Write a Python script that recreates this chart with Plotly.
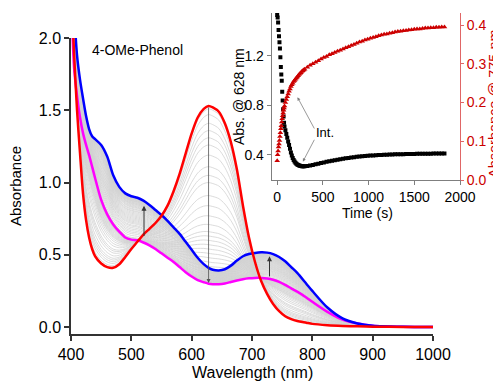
import plotly.graph_objects as go

# ---------------- data: spectra (wavelength in nm, absorbance) ----------------
wl = [400, 405, 410, 415, 420, 425, 430, 435, 440, 450, 460, 470, 480, 490, 500,
      510, 520, 530, 540, 550, 560, 570, 580, 590, 600, 610, 620, 628, 635, 645,
      655, 665, 675, 685, 695, 705, 715, 725, 735, 745, 755, 765, 775, 790, 800,
      825, 850, 875, 900, 950, 1000]

red_initial = [2.40, 1.90, 1.50, 1.20, 0.92, 0.74, 0.62, 0.54, 0.49, 0.44, 0.415, 0.41, 0.435, 0.485, 0.54,
               0.59, 0.64, 0.68, 0.72, 0.77, 0.84, 0.94, 1.06, 1.20, 1.34, 1.45, 1.51, 1.53, 1.52, 1.49,
               1.41, 1.28, 1.09, 0.84, 0.62, 0.45, 0.32, 0.23, 0.16, 0.11, 0.075, 0.055, 0.042, 0.03, 0.022,
               0.013, 0.008, 0.005, 0.003, 0.001, 0.0]

magenta_int = [2.40, 1.80, 1.60, 1.45, 1.34, 1.26, 1.19, 1.11, 1.03, 0.88, 0.78, 0.71, 0.66, 0.62, 0.605,
               0.60, 0.585, 0.565, 0.54, 0.51, 0.48, 0.45, 0.415, 0.38, 0.35, 0.325, 0.31, 0.30, 0.297, 0.297,
               0.302, 0.312, 0.322, 0.331, 0.337, 0.340, 0.340, 0.336, 0.327, 0.313, 0.292, 0.268, 0.245, 0.205, 0.175,
               0.105, 0.052, 0.025, 0.01, 0.002, 0.0]

blue_final = [2.60, 2.20, 1.88, 1.71, 1.58, 1.46, 1.37, 1.32, 1.30, 1.26, 1.18, 1.05, 0.97, 0.925, 0.905,
              0.895, 0.875, 0.845, 0.81, 0.775, 0.735, 0.69, 0.645, 0.59, 0.535, 0.48, 0.435, 0.41, 0.397, 0.392,
              0.40, 0.425, 0.46, 0.49, 0.505, 0.513, 0.517, 0.515, 0.505, 0.485, 0.455, 0.415, 0.375, 0.30, 0.25,
              0.135, 0.06, 0.025, 0.01, 0.002, 0.0]

# ---------------- data: kinetics (inset) ----------------
time_s = [0, 5, 10, 15, 20, 25, 30, 35, 40, 45, 50, 55, 60, 65, 70, 75, 80,
          90, 100, 110, 120, 130, 140, 150, 160, 170, 180, 190, 200, 210, 220, 230, 240, 250,
          260, 270, 280, 290, 300,
          330, 360, 390, 420, 450, 480, 510, 540, 570, 600, 630, 660, 690, 720, 750, 780,
          810, 840, 870, 900, 930, 960, 990, 1020, 1050, 1080, 1110, 1140, 1170, 1200,
          1230, 1260, 1290, 1320, 1350, 1380, 1410, 1440, 1470, 1500, 1530, 1560, 1590,
          1620, 1650, 1680, 1710, 1740, 1770, 1800, 1830]

abs_628 = [1.53, 1.51, 1.47, 1.41, 1.36, 1.31, 1.26, 1.19, 1.11, 1.05, 1.00, 0.91, 0.84, 0.77, 0.71, 0.66, 0.63,
           0.60, 0.57, 0.54, 0.51, 0.48, 0.45, 0.42, 0.395, 0.375, 0.36, 0.348, 0.338, 0.33, 0.324, 0.32, 0.316, 0.313,
           0.311, 0.31, 0.31, 0.31, 0.31,
           0.312, 0.316, 0.32, 0.325, 0.33, 0.335, 0.34, 0.345, 0.35, 0.354, 0.358, 0.362, 0.366, 0.37, 0.373, 0.376,
           0.379, 0.382, 0.385, 0.387, 0.389, 0.391, 0.393, 0.395, 0.396, 0.398, 0.399, 0.400, 0.401, 0.402,
           0.403, 0.404, 0.405, 0.406, 0.406, 0.407, 0.408, 0.408, 0.409, 0.409, 0.41, 0.41, 0.41,
           0.411, 0.411, 0.411, 0.412, 0.412, 0.412, 0.413, 0.413]

abs_775 = [0.05, 0.065, 0.075, 0.085, 0.093, 0.102, 0.112, 0.122, 0.132, 0.140, 0.150, 0.158, 0.166, 0.173, 0.180, 0.186, 0.191,
           0.200, 0.208, 0.215, 0.222, 0.229, 0.235, 0.241, 0.246, 0.250, 0.254, 0.257, 0.260, 0.263, 0.266, 0.269, 0.272, 0.275,
           0.277, 0.280, 0.282, 0.284, 0.286,
           0.291, 0.296, 0.300, 0.304, 0.308, 0.312, 0.316, 0.319, 0.323, 0.326, 0.329, 0.332, 0.335, 0.338, 0.341, 0.344,
           0.347, 0.350, 0.353, 0.356, 0.358, 0.361, 0.363, 0.366, 0.368, 0.370, 0.372, 0.374, 0.376, 0.377,
           0.379, 0.380, 0.382, 0.383, 0.384, 0.385, 0.386, 0.387, 0.388, 0.389, 0.390, 0.390, 0.391,
           0.392, 0.392, 0.393, 0.393, 0.394, 0.394, 0.395, 0.395]

x_ticks_main = [400, 500, 600, 700, 800, 900, 1000]
y_ticks_main = [0.0, 0.5, 1.0, 1.5, 2.0]
x_ticks_inset = [0, 500, 1000, 1500, 2000]
y_ticks_left = [0.4, 0.8, 1.2]
y_ticks_right = [0.0, 0.1, 0.2, 0.3, 0.4]

FONT = "Liberation Sans, Arial, sans-serif"
RED_DARK = "#CC0000"

fig = go.Figure()

# ---------------- intermediate (gray) spectra built from the read kinetics ----------------
i628 = wl.index(628)
red628 = red_initial[i628]
mag628 = magenta_int[i628]
i_min = abs_628.index(min(abs_628))
r_start = abs_775[i_min]
r_end = abs_775[-1]
gx, gy = [], []
for i, t in enumerate(time_s):
    if i <= i_min:
        w = (abs_628[i] - mag628) / (red628 - mag628)
        w = max(0.0, min(1.0, w))
        spec = [m + w * (r - m) for r, m in zip(red_initial, magenta_int)]
    else:
        u = (abs_775[i] - r_start) / (r_end - r_start)
        u = max(0.0, min(1.0, u))
        spec = [m + u * (b - m) for b, m in zip(blue_final, magenta_int)]
    gx += wl + [None]
    gy += spec + [None]

fig.add_trace(go.Scatter(x=gx, y=gy, mode="lines", line=dict(color="#D2D2D2", width=0.8, shape="spline", smoothing=0.8),
                         xaxis="x", yaxis="y", hoverinfo="skip", showlegend=False))

fig.add_trace(go.Scatter(x=wl, y=magenta_int, mode="lines", line=dict(color="#FF00FF", width=2.5, shape="spline", smoothing=0.8),
                         xaxis="x", yaxis="y", showlegend=False))
fig.add_trace(go.Scatter(x=wl, y=blue_final, mode="lines", line=dict(color="#0000FF", width=2.5, shape="spline", smoothing=0.8),
                         xaxis="x", yaxis="y", showlegend=False))
fig.add_trace(go.Scatter(x=wl, y=red_initial, mode="lines", line=dict(color="#FF0000", width=2.5, shape="spline", smoothing=0.8),
                         xaxis="x", yaxis="y", showlegend=False))

# ---------------- inset kinetics ----------------
fig.add_trace(go.Scatter(x=time_s, y=abs_775, mode="markers",
                         marker=dict(symbol="triangle-up", size=5, color=RED_DARK, line=dict(width=0)),
                         xaxis="x2", yaxis="y3", showlegend=False))
fig.add_trace(go.Scatter(x=time_s, y=abs_628, mode="markers",
                         marker=dict(symbol="square", size=4, color="black", line=dict(width=0)),
                         xaxis="x2", yaxis="y2", showlegend=False))

# ---------------- layout ----------------
# the page body adds an 8 px offset; figure is sized to fit the 501x388 window
OFF = 8
W, H = 501 - OFF, 388 - OFF
L, R, T, B = 71 - OFF, 41, 13 - OFF, 54
pw, ph = W - L - R, H - T - B


def px(xp):
    return (xp - OFF - L) / pw


def py(yp):
    return (H - B - (yp - OFF)) / ph


axis_common = dict(showgrid=False, zeroline=False, showline=True, ticks="outside",
                   tickfont=dict(family=FONT, size=16, color="black"))

fig.update_layout(
    width=W, height=H,
    margin=dict(l=L, r=R, t=T, b=B, autoexpand=False),
    paper_bgcolor="white", plot_bgcolor="rgba(0,0,0,0)",
    font=dict(family=FONT, color="black"),
    showlegend=False,
    xaxis=dict(domain=[0, px(433)], range=[400, 1000], anchor="y", tickvals=x_ticks_main,
               linecolor="#333333", linewidth=1.5, ticklen=5, tickwidth=1.5, tickcolor="#333333",
               **axis_common),
    yaxis=dict(domain=[0, py(38)], range=[-0.048, 2.0], anchor="x", tickvals=y_ticks_main,
               tickformat=".1f", linecolor="#333333", linewidth=1.5, ticklen=5, tickwidth=1.5,
               tickcolor="#333333", **axis_common),
    xaxis2=dict(domain=[px(271.7), 1.0], range=[-60, 2000], anchor="y2", tickvals=x_ticks_inset,
                showgrid=False, zeroline=False, showline=True, ticks="outside",
                linecolor="#7F7F7F", linewidth=1, ticklen=4, tickcolor="#7F7F7F",
                tickfont=dict(family=FONT, size=14, color="black")),
    yaxis2=dict(domain=[py(180), 1.0], range=[0.198, 1.547], anchor="x2", tickvals=y_ticks_left,
                tickformat=".1f", showgrid=False, zeroline=False, showline=True, ticks="outside",
                linecolor="#7F7F7F", linewidth=1, ticklen=4, tickcolor="#7F7F7F",
                tickfont=dict(family=FONT, size=14, color="black")),
    yaxis3=dict(overlaying="y2", side="right", anchor="x2", range=[0, 0.431], tickvals=y_ticks_right,
                tickformat=".1f", showgrid=False, zeroline=False, showline=True, ticks="outside",
                linecolor="#E06666", linewidth=1, ticklen=3, tickcolor="#E06666",
                tickfont=dict(family=FONT, size=14, color=RED_DARK)),
)

ann = []
# axis titles
ann.append(dict(text="Wavelength (nm)", xref="paper", yref="paper", x=px(252), y=py(372),
                showarrow=False, font=dict(family=FONT, size=16, color="black"), xanchor="center", yanchor="middle"))
ann.append(dict(text="Absorbance", xref="paper", yref="paper", x=px(16), y=py(186), textangle=-90,
                showarrow=False, font=dict(family=FONT, size=15, color="black"), xanchor="center", yanchor="middle"))
ann.append(dict(text="Time (s)", xref="paper", yref="paper", x=px(367), y=py(213),
                showarrow=False, font=dict(family=FONT, size=14, color="black"), xanchor="center", yanchor="middle"))
ann.append(dict(text="Abs. @ 628 nm", xref="paper", yref="paper", x=px(239), y=py(97), textangle=-90,
                showarrow=False, font=dict(family=FONT, size=14, color="black"), xanchor="center", yanchor="middle"))
ann.append(dict(text="Absorbance @ 775 nm", xref="paper", yref="paper", x=px(494), y=py(104), textangle=-90,
                showarrow=False, font=dict(family=FONT, size=14.5, color=RED_DARK), xanchor="center", yanchor="middle",
                borderpad=0))
ann.append(dict(text="4-OMe-Phenol", xref="x", yref="y", x=510, y=1.915,
                showarrow=False, font=dict(family=FONT, size=14, color="black"), xanchor="center", yanchor="middle"))
# spectral change arrows
ann.append(dict(x=521, y=0.84, ax=521, ay=0.62, xref="x", yref="y", axref="x", ayref="y", text="",
                showarrow=True, arrowhead=2, arrowsize=1, arrowwidth=1, arrowcolor="#333333"))
ann.append(dict(x=628, y=0.305, ax=628, ay=1.53, xref="x", yref="y", axref="x", ayref="y", text="",
                showarrow=True, arrowhead=2, arrowsize=1, arrowwidth=0.8, arrowcolor="#555555"))
ann.append(dict(x=729, y=0.49, ax=729, ay=0.34, xref="x", yref="y", axref="x", ayref="y", text="",
                showarrow=True, arrowhead=2, arrowsize=1, arrowwidth=1, arrowcolor="#333333"))
# inset "Int." label with two arrows
ann.append(dict(text="Int.", xref="x2", yref="y2", x=528, y=0.58, showarrow=False,
                font=dict(family=FONT, size=13, color="black"), xanchor="center", yanchor="middle"))
ann.append(dict(x=222, y=0.866, ax=415, ay=0.602, xref="x2", yref="y2", axref="x2", ayref="y2", text="",
                showarrow=True, arrowhead=2, arrowsize=0.8, arrowwidth=0.8, arrowcolor="#7F7F7F"))
ann.append(dict(x=281, y=0.346, ax=415, ay=0.535, xref="x2", yref="y2", axref="x2", ayref="y2", text="",
                showarrow=True, arrowhead=2, arrowsize=0.8, arrowwidth=0.8, arrowcolor="#7F7F7F"))

fig.update_layout(annotations=ann)

fig.write_html("out.html")
